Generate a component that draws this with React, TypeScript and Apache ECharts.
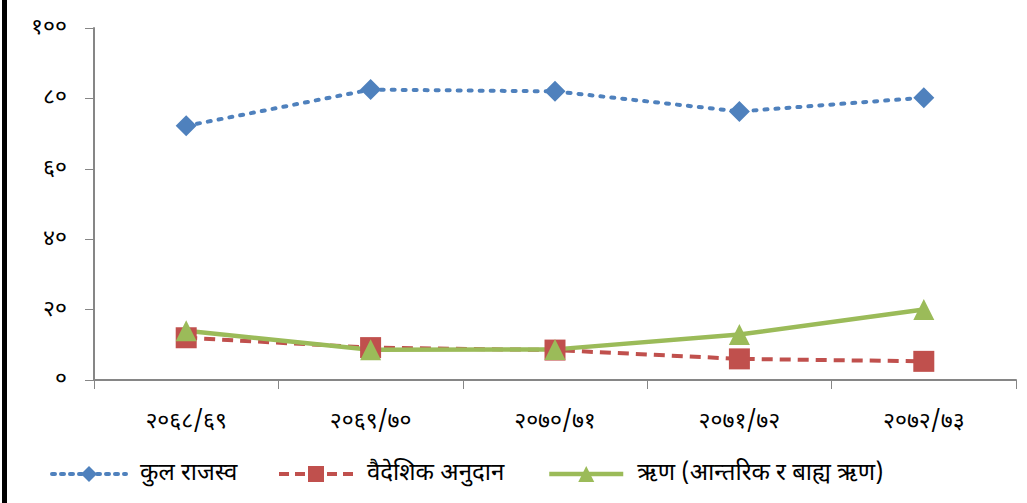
import React, { useEffect, useRef } from "react";
import * as echarts from "echarts";

const categories = ["२०६८/६९", "२०६९/७०", "२०७०/७१", "२०७१/७२", "२०७२/७३"];
const seriesNames = ["कुल राजस्व", "वैदेशिक अनुदान", "ऋण (आन्तरिक र बाह्य ऋण)"];
const revenue = [72.2, 82.5, 82.0, 76.3, 80.2];
const grant = [12.0, 9.2, 8.5, 6.0, 5.3];
const loan = [14.0, 8.6, 8.7, 12.9, 20.0];
const yTicks = [0, 20, 40, 60, 80, 100];
const yTickLabels = ["०", "२०", "४०", "६०", "८०", "१००"];

const FONT = "'Noto Sans Devanagari', 'Lohit Devanagari', 'Noto Sans', 'DejaVu Sans', sans-serif";

export default function App() {
  const ref = useRef<HTMLDivElement>(null);
  useEffect(() => {
    if (!ref.current) return;
    const chart = echarts.init(ref.current, undefined, { renderer: "svg" });
    const legendBase = {
      bottom: 12,
      itemWidth: 74,
      itemHeight: 20,
      textStyle: { color: "#000", fontSize: 24, fontFamily: FONT, padding: [0, 0, 0, 9] },
    };
    chart.setOption({
      animation: false,
      backgroundColor: "#ffffff",
      textStyle: { fontFamily: FONT },
      grid: { left: 94, right: 11, top: 28, bottom: 123, containLabel: false },
      graphic: [
        { type: "rect", left: 2, top: 0, shape: { width: 5, height: 503 }, style: { fill: "#000" } },
      ],
      xAxis: {
        type: "category",
        data: categories,
        boundaryGap: true,
        axisLine: { lineStyle: { color: "#868686", width: 2 } },
        axisTick: { show: true, length: 9, lineStyle: { color: "#868686", width: 1 } },
        axisLabel: { color: "#000", fontSize: 23, margin: 30, fontFamily: FONT },
        splitLine: { show: false },
      },
      yAxis: {
        type: "value",
        min: 0,
        max: 100,
        interval: 20,
        axisLine: { show: true, lineStyle: { color: "#868686", width: 2 } },
        axisTick: { show: true, length: 9, lineStyle: { color: "#868686", width: 1 } },
        axisLabel: {
          color: "#000",
          fontSize: 23,
          margin: 27,
          fontFamily: FONT,
          formatter: (v: number) => {
            const i = yTicks.indexOf(v);
            return i >= 0 ? yTickLabels[i] : "";
          },
        },
        splitLine: { show: false },
      },
      legend: [
        { ...legendBase, left: 45, data: [seriesNames[0]], lineStyle: { width: 4, type: [3, 6] } },
        { ...legendBase, left: 272, data: [seriesNames[1]], lineStyle: { width: 4, type: [10, 6] } },
        { ...legendBase, left: 542, data: [seriesNames[2]], lineStyle: { width: 4.5 } },
      ],
      series: [
        {
          name: seriesNames[0],
          type: "line",
          data: revenue,
          symbol: "diamond",
          symbolSize: 21,
          itemStyle: { color: "#4F81BD" },
          lineStyle: { color: "#4F81BD", width: 4, type: [3, 8], cap: "round" },
        },
        {
          name: seriesNames[1],
          type: "line",
          data: grant,
          symbol: "rect",
          symbolSize: 21,
          itemStyle: { color: "#C0504D" },
          lineStyle: { color: "#C0504D", width: 4, type: [11, 7] },
        },
        {
          name: seriesNames[2],
          type: "line",
          data: loan,
          symbol: "triangle",
          symbolSize: 21,
          itemStyle: { color: "#9BBB59" },
          lineStyle: { color: "#9BBB59", width: 4.5, type: "solid" },
        },
      ],
    });
    return () => chart.dispose();
  }, []);
  return <div ref={ref} style={{ width: 1027, height: 503, position: "absolute", left: 0, top: 0 }} />;
}
